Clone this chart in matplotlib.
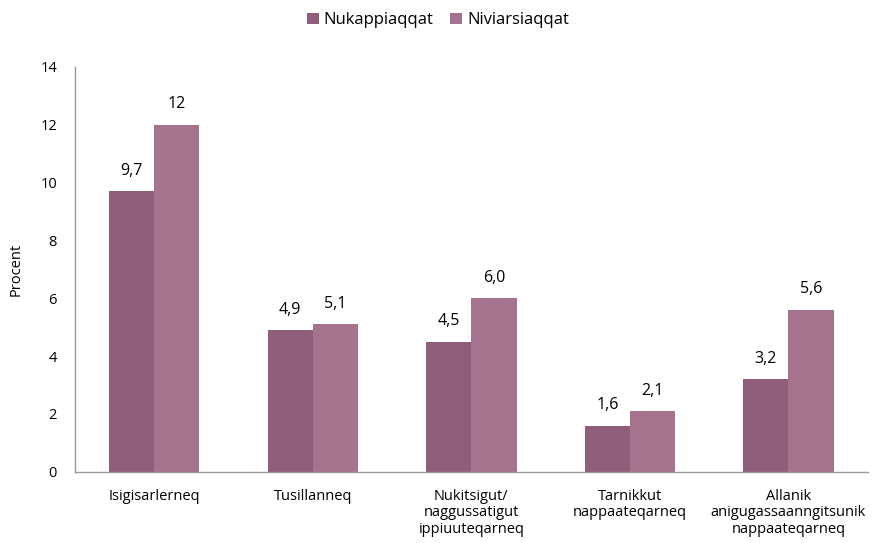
import numpy as np
import matplotlib.pyplot as plt

plt.rcParams['font.family'] = ['Open Sans', 'DejaVu Sans']

categories = ['Isigisarlerneq', 'Tusillanneq', 'Nukitsigut/\nnaggussatigut\nippiuuteqarneq',
              'Tarnikkut\nnappaateqarneq', 'Allanik\nanigugassaanngitsunik\nnappaateqarneq']
nukappiaqqat = [9.7, 4.9, 4.5, 1.6, 3.2]
niviarsiaqqat = [12.0, 5.1, 6.0, 2.1, 5.6]
labels_nuk = ['9,7', '4,9', '4,5', '1,6', '3,2']
labels_niv = ['12', '5,1', '6,0', '2,1', '5,6']

c_dark = '#905D7A'
c_light = '#A6738F'

fig = plt.figure(figsize=(8.76, 5.43), dpi=100)
ax = fig.add_axes([0.0856, 0.131, 0.905, 0.746])

x = np.arange(len(categories))
w = 0.285
b1 = ax.bar(x - w / 2, nukappiaqqat, w, color=c_dark, label='Nukappiaqqat')
b2 = ax.bar(x + w / 2, niviarsiaqqat, w, color=c_light, label='Niviarsiaqqat')

ax.bar_label(b1, labels=labels_nuk, padding=9, fontsize=11.5)
ax.bar_label(b2, labels=labels_niv, padding=9, fontsize=11.5)

ax.set_xlim(-0.5, len(categories) - 0.5)
ax.set_ylim(0, 14)
ax.set_yticks(range(0, 15, 2))
ax.set_xticks(x)
ax.set_xticklabels(categories, fontsize=10.5, linespacing=1.15)
ax.tick_params(axis='both', length=0)
ax.tick_params(axis='x', pad=12, labelsize=10.5)
ax.tick_params(axis='y', pad=13, labelsize=10.5)
ax.set_ylabel('Procent', fontsize=10.5, labelpad=12)

for s in ['top', 'right']:
    ax.spines[s].set_visible(False)
for s in ['left', 'bottom']:
    ax.spines[s].set_color('#999999')
    ax.spines[s].set_linewidth(1)

fig.legend(loc='upper center', bbox_to_anchor=(0.5, 1.005), ncol=2, frameon=False,
           fontsize=12, handlelength=0.7, handleheight=0.7, handletextpad=0.3,
           columnspacing=1.0)

fig.savefig('out.png', dpi=100)
